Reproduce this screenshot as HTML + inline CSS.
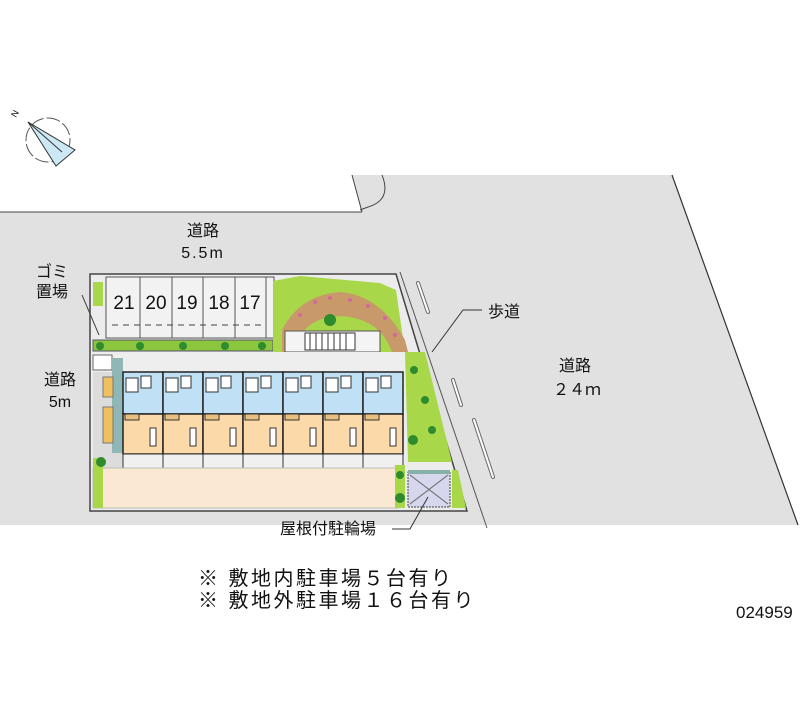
<!DOCTYPE html>
<html><head><meta charset="utf-8"><style>
html,body{margin:0;padding:0;background:#fff;width:800px;height:727px;overflow:hidden}
svg{display:block}
text{font-family:"Liberation Sans","Noto Sans CJK JP",sans-serif;fill:#111}
</style></head><body>
<svg width="800" height="727" viewBox="0 0 800 727" xmlns="http://www.w3.org/2000/svg">
<polygon points="0,212 362,212 352,175 672,175 798,525 0,525" fill="#e1e1e1"/>
<line x1="0" y1="212" x2="362" y2="212" stroke="#444" stroke-width="1"/>
<line x1="352" y1="175" x2="362" y2="212" stroke="#444" stroke-width="1"/>
<path d="M382,175 Q392,200 368,207 L360,210" fill="none" stroke="#444" stroke-width="1"/>
<line x1="672" y1="175" x2="798" y2="525" stroke="#333" stroke-width="1.2"/>
<line x1="400" y1="272" x2="487" y2="528" stroke="#555" stroke-width="1"/>
<g stroke="#666" stroke-width="4" stroke-linecap="round"><line x1="418" y1="283" x2="428" y2="312"/><line x1="453" y1="380" x2="461" y2="405"/><line x1="474" y1="420" x2="493" y2="477"/></g>
<g stroke="#fff" stroke-width="2" stroke-linecap="round"><line x1="418" y1="283" x2="428" y2="312"/><line x1="453" y1="380" x2="461" y2="405"/><line x1="474" y1="420" x2="493" y2="477"/></g>
<polygon points="90,274 396,274 467,511 90,511" fill="#ececec" stroke="#444" stroke-width="1.5"/>
<rect x="106" y="277" width="168" height="61" fill="#f2f2f2" stroke="#555"/>
<g stroke="#555" stroke-width="1"><line x1="140" y1="277" x2="140" y2="338"/><line x1="172" y1="277" x2="172" y2="338"/><line x1="203" y1="277" x2="203" y2="338"/><line x1="235" y1="277" x2="235" y2="338"/><line x1="266" y1="277" x2="266" y2="338"/></g>
<line x1="112" y1="325" x2="262" y2="325" stroke="#444" stroke-dasharray="6,5"/>
<g font-size="19" text-anchor="middle"><text x="124" y="309">21</text><text x="156" y="309">20</text><text x="187" y="309">19</text><text x="219" y="309">18</text><text x="250" y="309">17</text></g>
<rect x="93" y="282" width="10" height="24" fill="#a8d84a"/>
<line x1="82" y1="295" x2="99" y2="335" stroke="#444"/>
<rect x="93" y="340" width="180" height="11" fill="#8cc63f" stroke="#556"/>
<g fill="#2e8b2e"><circle cx="100" cy="346" r="4"/><circle cx="140" cy="346" r="4"/><circle cx="183" cy="346" r="4"/><circle cx="225" cy="346" r="4"/><circle cx="262" cy="346" r="4"/></g>
<polygon points="273,281 300,276 380,283 396,290 405,352 273,352" fill="#a8d84a"/>
<path d="M282,352 L282,330 Q300,295 340,292 Q380,295 405,340 L408,352 L392,352 Q380,318 340,316 Q300,318 296,352 Z" fill="#c89a6a"/>
<g fill="#d06a9a"><circle cx="300" cy="315" r="2"/><circle cx="315" cy="302" r="2"/><circle cx="330" cy="298" r="2"/><circle cx="350" cy="300" r="2"/><circle cx="368" cy="306" r="2"/><circle cx="385" cy="318" r="2"/><circle cx="395" cy="335" r="2"/><circle cx="290" cy="335" r="2"/></g>
<circle cx="330" cy="320" r="6" fill="#2e8b2e"/>
<rect x="285" y="331" width="95" height="21" fill="#f4f4f4" stroke="#555"/>
<rect x="305" y="333" width="50" height="17" fill="#fff" stroke="#333"/>
<g stroke="#333"><line x1="310" y1="333" x2="310" y2="350"/><line x1="316" y1="333" x2="316" y2="350"/><line x1="322" y1="333" x2="322" y2="350"/><line x1="328" y1="333" x2="328" y2="350"/><line x1="334" y1="333" x2="334" y2="350"/><line x1="340" y1="333" x2="340" y2="350"/><line x1="346" y1="333" x2="346" y2="350"/></g>
<rect x="93" y="352" width="312" height="20" fill="#eeeeee"/>
<rect x="93" y="355" width="19" height="15" fill="#fff" stroke="#666"/>
<rect x="93" y="372" width="30" height="96" fill="#dcdcdc"/>
<rect x="112" y="358" width="11" height="95" fill="#8fb7b5"/>
<rect x="103" y="377" width="10" height="20" fill="#f0c060" stroke="#777"/>
<rect x="103" y="407" width="10" height="36" fill="#f0c060" stroke="#777"/>
<g id="u">
<rect x="123" y="372" width="40" height="42" fill="#bfe0f5" stroke="#222" stroke-width="1.5"/>
<rect x="123" y="414" width="40" height="40" fill="#fcd9a8" stroke="#222" stroke-width="1.5"/>
<rect x="123" y="454" width="40" height="15" fill="#f0f0f0" stroke="#333"/>
<rect x="126" y="378" width="12" height="14" fill="#fff" stroke="#333"/>
<rect x="141" y="376" width="10" height="12" fill="#fff" stroke="#333"/>
<rect x="125" y="414" width="14" height="6" fill="#e8c080" stroke="#333"/>
<rect x="150" y="428" width="6" height="18" fill="#fff" stroke="#333"/>
</g>
<use href="#u" x="40"/><use href="#u" x="80"/><use href="#u" x="120"/><use href="#u" x="160"/><use href="#u" x="200"/><use href="#u" x="240"/>
<polygon points="405,352 425,352 452,462 408,462" fill="#a8d84a"/>
<g fill="#2e8b2e"><circle cx="414" cy="370" r="4"/><circle cx="425" cy="400" r="4"/><circle cx="432" cy="430" r="4"/><circle cx="413" cy="440" r="5"/></g>
<rect x="93" y="468" width="305" height="40" fill="#fbe8d2" stroke="#bbb"/>
<rect x="93" y="458" width="10" height="50" fill="#a8d84a"/>
<rect x="395" y="465" width="10" height="43" fill="#a8d84a"/>
<g fill="#2e8b2e"><circle cx="101" cy="462" r="5"/><circle cx="400" cy="498" r="5"/><circle cx="400" cy="475" r="4"/></g>
<rect x="408" y="472" width="42" height="35" fill="#d6d6ec" stroke="#444" stroke-dasharray="2,1"/>
<line x1="410" y1="475" x2="448" y2="504" stroke="#666"/><line x1="448" y1="475" x2="410" y2="504" stroke="#666"/>
<rect x="408" y="470" width="42" height="4" fill="#86b0a8"/>
<polygon points="452,470 458,470 466,508 452,508" fill="#a8d84a"/>
<circle cx="48" cy="140" r="22" fill="none" stroke="#555" stroke-dasharray="14,3"/>
<polygon points="28,122 75,150 56,166" fill="#cde8f5" stroke="#333"/>
<line x1="28" y1="122" x2="62" y2="152" stroke="#333"/>
<text x="16" y="118" font-size="9" transform="rotate(-60 16 118)">N</text>
<g font-size="16" text-anchor="middle">
<text x="203" y="236">道路</text><text x="203" y="258" letter-spacing="2">5.5m</text>
<text x="52" y="277">ゴミ</text><text x="52" y="297">置場</text>
<text x="60" y="385">道路</text><text x="60" y="407">5m</text>
<text x="504" y="317">歩道</text>
<text x="575" y="371">道路</text><text x="577" y="395">２４ｍ</text>
<text x="328" y="534">屋根付駐輪場</text>
</g>
<polyline points="432,352 463,310 482,310" fill="none" stroke="#333"/>
<polyline points="392,529 410,529 428,497" fill="none" stroke="#333"/>
<g font-size="20" letter-spacing="2.5"><text x="198" y="585">※ 敷地内駐車場５台有り</text><text x="198" y="607">※ 敷地外駐車場１６台有り</text></g>
<text x="736" y="618" font-size="17">024959</text>
</svg>
</body></html>
